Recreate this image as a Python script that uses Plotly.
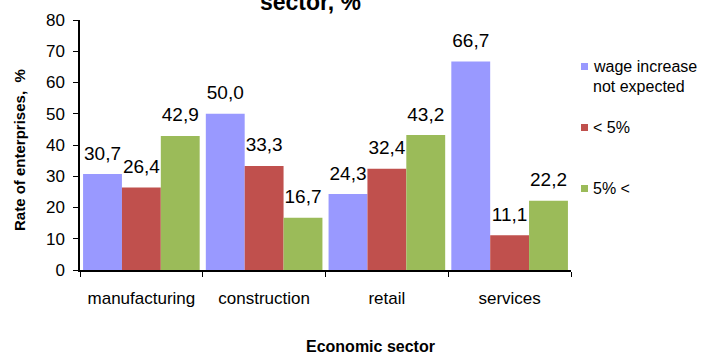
import plotly.graph_objects as go

categories = ["manufacturing", "construction", "retail", "services"]
series_names = ["wage increase<br>not expected", "< 5%", "5% <"]
no_increase = [30.7, 50.0, 24.3, 66.7]
below5 = [26.4, 33.3, 32.4, 11.1]
above5 = [42.9, 16.7, 43.2, 22.2]
colors = ["#9999FF", "#C0504D", "#9BBB59"]

FONT = "Liberation Sans, Arial, sans-serif"
L, R, T, B = 80, 131, 20, 83
W, H = 702, 353
PW, PH = W - L - R, H - T - B


def px(xp):
    return (xp - L) / PW


def py(yp):
    return (H - B - yp) / PH


fig = go.Figure()
for i, (name, vals, col) in enumerate(zip(series_names, [no_increase, below5, above5], colors)):
    fig.add_trace(go.Bar(
        x=categories, y=vals, name=name, marker=dict(color=col, line=dict(width=0)),
        offsetgroup=str(i), showlegend=False,
    ))
for i, (name, vals) in enumerate(zip(series_names, [no_increase, below5, above5])):
    fig.add_trace(go.Scatter(
        x=categories, y=vals, mode="markers+text", offsetgroup=str(i),
        marker=dict(size=14, opacity=0),
        text=[f"{v:.1f}".replace(".", ",") for v in vals],
        textposition="top center", textfont=dict(size=19, color="black", family=FONT),
        cliponaxis=False, showlegend=False, hoverinfo="skip",
    ))

fig.update_layout(
    width=W, height=H,
    margin=dict(l=L, r=R, t=T, b=B, autoexpand=False),
    paper_bgcolor="white", plot_bgcolor="white",
    font=dict(family=FONT, color="black"),
    barmode="group", bargap=0.05, bargroupgap=0,
    scattermode="group", scattergap=0.05,
    showlegend=False,
    xaxis=dict(showline=True, linecolor="black", linewidth=1.5, ticks="outside",
               tickson="boundaries", ticklen=5, tickcolor="black",
               tickfont=dict(size=17), ticklabelstandoff=12, showgrid=False),
    yaxis=dict(range=[0, 80], dtick=10, showline=True, linecolor="black", linewidth=1.5,
               ticks="outside", ticklen=5, tickcolor="black", tickfont=dict(size=17),
               ticklabelstandoff=5, showgrid=False, zeroline=False),
)

# titles
fig.add_annotation(text="<b>sector, %</b>", xref="paper", yref="paper",
                   x=px(310), y=py(2.5), xanchor="center", yanchor="middle",
                   showarrow=False, font=dict(size=23, family=FONT))
fig.add_annotation(text="<b>Economic sector</b>", xref="paper", yref="paper",
                   x=px(370), y=py(346.5), xanchor="center", yanchor="middle",
                   showarrow=False, font=dict(size=16, family=FONT))
fig.add_annotation(text="<b>Rate of enterprises,  %</b>", xref="paper", yref="paper",
                   x=px(19), y=py(150), xanchor="center", yanchor="middle", textangle=-90,
                   showarrow=False, font=dict(size=15, family=FONT))

# legend (manual)
leg_base = [72, 133, 194]
for name, col, base in zip(series_names, colors, leg_base):
    fig.add_shape(type="rect", xref="paper", yref="paper",
                  x0=px(581), x1=px(588), y0=py(base - 2), y1=py(base - 9),
                  fillcolor=col, line=dict(width=0))
    for k, line in enumerate(name.split("<br>")):
        fig.add_annotation(text=line, xref="paper", yref="paper",
                           x=px(591), y=py(base + 20 * k - 5.5), xanchor="left",
                           yanchor="middle", align="left",
                           showarrow=False, font=dict(size=16, family=FONT))

fig.write_html("out.html")
